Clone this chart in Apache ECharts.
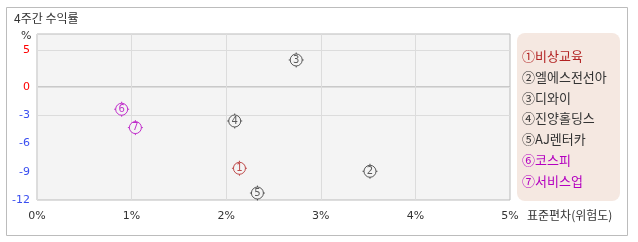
<!DOCTYPE html>
<html><head><meta charset="utf-8">
<script src="https://cdn.jsdelivr.net/npm/echarts@6/dist/echarts.min.js"></script>
<style>html,body{margin:0;padding:0;background:#fff}#c{width:638px;height:242px}</style>
</head><body><div id="c"></div>
<script>
const names = ['①비상교육','②엘에스전선아','③디와이','④진양홀딩스','⑤AJ렌터카','⑥코스피','⑦서비스업'];
const digits = ['1','2','3','4','5','6','7'];
const stdDev = [2.14, 3.52, 2.74, 2.09, 2.33, 0.895, 1.04];
const returns = [-8.63, -8.95, 3.65, -3.61, -11.26, -2.36, -4.31];
const xTicks = [0, 1, 2, 3, 4, 5];
const yTicksUpper = [5];
const yTicksLower = [-12, -9, -6, -3, 0];
const yGrid = [5, 0, -3];

const colors = ['#b22222','#333333','#333333','#333333','#333333','#b400c0','#b400c0'];
const FONT = "'DejaVu Sans','Noto Sans CJK KR',sans-serif";
const KFONT = "'Noto Sans CJK KR','DejaVu Sans',sans-serif";
const sym = 'path://M7.5,1.5 A6,6 0 1,1 7.5,13.5 A6,6 0 1,1 7.5,1.5 Z M7.5,0 L7.5,1.5 M7.5,13.5 L7.5,15 M0,7.5 L1.5,7.5 M13.5,7.5 L15,7.5';

const chart = echarts.init(document.getElementById('c'), null, {renderer:'canvas'});
const series = names.map((n, i) => {
  const up = returns[i] >= 0;
  return {
    type: 'scatter', name: n,
    xAxisIndex: up ? 0 : 1, yAxisIndex: up ? 0 : 1,
    data: [[stdDev[i], returns[i]]],
    symbol: sym, symbolSize: 15,
    itemStyle: {color: '#f4f4f4', borderColor: colors[i], borderWidth: 1},
    label: {show: true, position: 'inside', formatter: digits[i], color: colors[i], fontSize: 10, fontFamily: FONT},
    z: 5
  };
});
series.push({
  type: 'scatter', name: '_gu', xAxisIndex: 0, yAxisIndex: 0, data: [], silent: true,
  markLine: {silent: true, symbol: 'none', label: {show: false}, lineStyle: {color: '#dcdcdc', width: 1, type: 'solid'},
    data: yGrid.filter(v => v > 0).map(v => ({yAxis: v}))}
});
series.push({
  type: 'scatter', name: '_gl', xAxisIndex: 1, yAxisIndex: 1, data: [], silent: true,
  markLine: {silent: true, symbol: 'none', label: {show: false}, lineStyle: {color: '#dcdcdc', width: 1, type: 'solid'},
    data: yGrid.filter(v => v <= 0).map(v => ({yAxis: v}))}
});

const yLabelColor = v => (Number(v) >= 0 ? '#ff0000' : '#3a4ef0');
chart.setOption({
  animation: false,
  backgroundColor: '#fff',
  graphic: [
    {type: 'rect', shape: {x: 6.5, y: 7.5, width: 621, height: 228}, style: {fill: 'none', stroke: '#bcbcbc', lineWidth: 1}, z: -10},
    {type: 'rect', shape: {x: 517, y: 33, width: 103, height: 168, r: 8}, style: {fill: '#f5e8e1'}, z: -5}
  ],
  title: [
    {text: '4주간 수익률', left: 14, top: 12, padding: 0, textStyle: {fontSize: 12, fontWeight: 'normal', color: '#333', fontFamily: KFONT}},
    {text: '%', left: 21, top: 31, padding: 0, textStyle: {fontSize: 11, fontWeight: 'normal', color: '#333', fontFamily: FONT}},
    {text: '표준편차(위험도)', left: 527, top: 209, padding: 0, textStyle: {fontSize: 12, fontWeight: 'normal', color: '#333', fontFamily: KFONT}}
  ],
  grid: [
    {left: 37, width: 473, top: 34, height: 53, show: true, backgroundColor: '#f4f4f4', borderColor: '#bbbbbb', borderWidth: 1},
    {left: 37, width: 473, top: 87, height: 113, show: true, backgroundColor: '#f4f4f4', borderColor: '#bbbbbb', borderWidth: 1}
  ],
  xAxis: [
    {gridIndex: 0, type: 'value', min: 0, max: 5, interval: 1, axisLine: {show: false}, axisTick: {show: false}, axisLabel: {show: false},
      splitLine: {show: true, lineStyle: {color: '#dcdcdc'}}},
    {gridIndex: 1, type: 'value', min: 0, max: 5, interval: 1, axisLine: {show: false}, axisTick: {show: false},
      axisLabel: {show: true, formatter: '{value}%', color: '#333', fontSize: 11, margin: 11, fontFamily: FONT, customValues: xTicks},
      splitLine: {show: true, lineStyle: {color: '#dcdcdc'}}}
  ],
  yAxis: [
    {gridIndex: 0, type: 'value', min: 0, max: 7.16, axisLine: {show: false}, axisTick: {show: false}, splitLine: {show: false},
      axisLabel: {show: true, customValues: yTicksUpper, color: yLabelColor, fontSize: 11, margin: 7, fontFamily: FONT}},
    {gridIndex: 1, type: 'value', min: -12, max: 0, interval: 3, axisLine: {show: false}, axisTick: {show: false}, splitLine: {show: false},
      axisLabel: {show: true, customValues: yTicksLower, color: yLabelColor, fontSize: 11, margin: 7, fontFamily: FONT}}
  ],
  legend: {
    orient: 'vertical', left: 512, top: 44, padding: 5, itemGap: 6.8, itemWidth: 0, itemHeight: 14, icon: 'rect',
    itemStyle: {color: 'transparent', borderWidth: 0, opacity: 0},
    selectedMode: false,
    data: names.map((n, i) => ({name: n, textStyle: {color: colors[i]}})),
    textStyle: {fontSize: 13, fontFamily: KFONT}
  },
  series: series
});
</script></body></html>
